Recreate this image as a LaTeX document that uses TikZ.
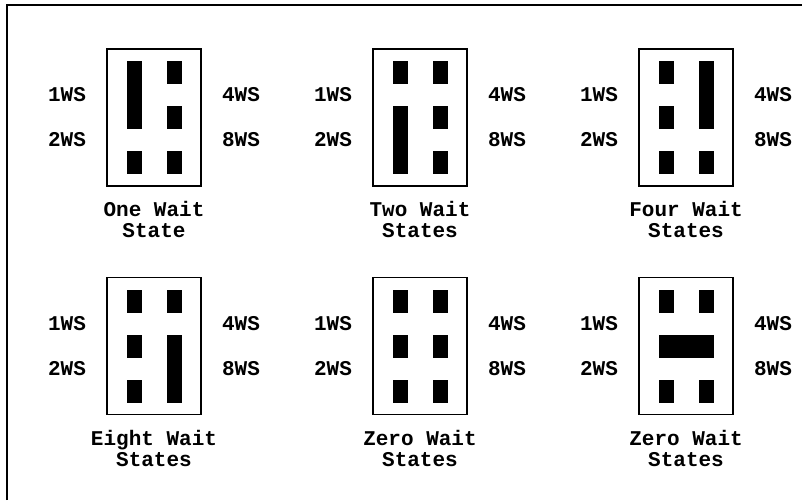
\documentclass[tikz,border=0pt]{standalone}
\usepackage{fontspec}
\setmainfont{Liberation Mono}
\begin{document}
\begin{tikzpicture}[x=1pt,y=-1pt,
  lbl/.style={font=\bfseries\fontsize{21}{22}\selectfont, inner sep=0pt},
  captxt/.style={font=\bfseries\fontsize{21}{21}\selectfont, align=center, inner sep=0pt},
  switchbox/.style={draw, line width=1.8pt, minimum width=94pt, minimum height=137pt, inner sep=0pt},
  pin/.style={fill=black, minimum width=15pt, minimum height=23pt, inner sep=0pt},
  longpin/.style={fill=black, minimum width=15pt, minimum height=68pt, inner sep=0pt},
  widepin/.style={fill=black, minimum width=55pt, minimum height=23pt, inner sep=0pt},
  frameline/.style={line width=2pt}]
\useasboundingbox (0,0) rectangle (802,500);
\coordinate (fb) at (7,500);
\coordinate (fc) at (7,5);
\coordinate (fr) at (802,5);
\draw[frameline] (fb) -- (fc) -- (fr);

% Panel A: One Wait State
\begin{scope}[shift={(154,117.5)}]
  \node[switchbox] (Abox) at (0,0) {};
  \node[longpin] (Al12) at (-20,-22.5) {};
  \node[pin] (Al3) at (-20,45) {};
  \node[pin] (Ar1) at (20,-45) {};
  \node[pin] (Ar2) at (20,0) {};
  \node[pin] (Ar3) at (20,45) {};
  \node[lbl] (A1) at (-87,-22.5) {1WS};
  \node[lbl] (A2) at (-87,22.5) {2WS};
  \node[lbl] (A4) at (87,-22.5) {4WS};
  \node[lbl] (A8) at (87,22.5) {8WS};
  \node[captxt] (Acap) at (0,102) {One Wait\\State};
\end{scope}

% Panel B: Two Wait States
\begin{scope}[shift={(420,117.5)}]
  \node[switchbox] (Bbox) at (0,0) {};
  \node[pin] (Bl1) at (-20,-45) {};
  \node[longpin] (Bl23) at (-20,22.5) {};
  \node[pin] (Br1) at (20,-45) {};
  \node[pin] (Br2) at (20,0) {};
  \node[pin] (Br3) at (20,45) {};
  \node[lbl] (B1) at (-87,-22.5) {1WS};
  \node[lbl] (B2) at (-87,22.5) {2WS};
  \node[lbl] (B4) at (87,-22.5) {4WS};
  \node[lbl] (B8) at (87,22.5) {8WS};
  \node[captxt] (Bcap) at (0,102) {Two Wait\\States};
\end{scope}

% Panel C: Four Wait States
\begin{scope}[shift={(686,117.5)}]
  \node[switchbox] (Cbox) at (0,0) {};
  \node[pin] (Cl1) at (-20,-45) {};
  \node[pin] (Cl2) at (-20,0) {};
  \node[pin] (Cl3) at (-20,45) {};
  \node[longpin] (Cr12) at (20,-22.5) {};
  \node[pin] (Cr3) at (20,45) {};
  \node[lbl] (C1) at (-87,-22.5) {1WS};
  \node[lbl] (C2) at (-87,22.5) {2WS};
  \node[lbl] (C4) at (87,-22.5) {4WS};
  \node[lbl] (C8) at (87,22.5) {8WS};
  \node[captxt] (Ccap) at (0,102) {Four Wait\\States};
\end{scope}

% Panel D: Eight Wait States
\begin{scope}[shift={(154,346)}]
  \node[switchbox] (Dbox) at (0,0) {};
  \node[pin] (Dl1) at (-20,-45) {};
  \node[pin] (Dl2) at (-20,0) {};
  \node[pin] (Dl3) at (-20,45) {};
  \node[pin] (Dr1) at (20,-45) {};
  \node[longpin] (Dr23) at (20,22.5) {};
  \node[lbl] (D1) at (-87,-22.5) {1WS};
  \node[lbl] (D2) at (-87,22.5) {2WS};
  \node[lbl] (D4) at (87,-22.5) {4WS};
  \node[lbl] (D8) at (87,22.5) {8WS};
  \node[captxt] (Dcap) at (0,102) {Eight Wait\\States};
\end{scope}

% Panel E: Zero Wait States
\begin{scope}[shift={(420,346)}]
  \node[switchbox] (Ebox) at (0,0) {};
  \node[pin] (El1) at (-20,-45) {};
  \node[pin] (El2) at (-20,0) {};
  \node[pin] (El3) at (-20,45) {};
  \node[pin] (Er1) at (20,-45) {};
  \node[pin] (Er2) at (20,0) {};
  \node[pin] (Er3) at (20,45) {};
  \node[lbl] (E1) at (-87,-22.5) {1WS};
  \node[lbl] (E2) at (-87,22.5) {2WS};
  \node[lbl] (E4) at (87,-22.5) {4WS};
  \node[lbl] (E8) at (87,22.5) {8WS};
  \node[captxt] (Ecap) at (0,102) {Zero Wait\\States};
\end{scope}

% Panel F: Zero Wait States (jumpered)
\begin{scope}[shift={(686,346)}]
  \node[switchbox] (Fbox) at (0,0) {};
  \node[pin] (Fl1) at (-20,-45) {};
  \node[pin] (Fr1) at (20,-45) {};
  \node[widepin] (Fmid) at (0,0) {};
  \node[pin] (Fl3) at (-20,45) {};
  \node[pin] (Fr3) at (20,45) {};
  \node[lbl] (F1) at (-87,-22.5) {1WS};
  \node[lbl] (F2) at (-87,22.5) {2WS};
  \node[lbl] (F4) at (87,-22.5) {4WS};
  \node[lbl] (F8) at (87,22.5) {8WS};
  \node[captxt] (Fcap) at (0,102) {Zero Wait\\States};
\end{scope}
\end{tikzpicture}
\end{document}
